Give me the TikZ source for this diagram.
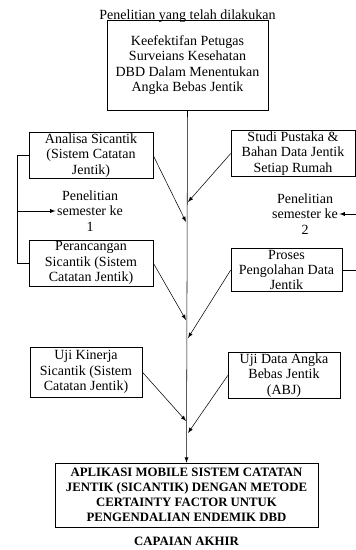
\documentclass[tikz,border=0pt]{standalone}
\usepackage{fontspec}
\setmainfont{Liberation Serif}
\usetikzlibrary{positioning}
\tikzset{
  kotak/.style={draw, fill=white, align=center, inner xsep=2pt, inner ysep=1pt,
    font=\fontsize{10.5}{11.6}\selectfont},
  teks/.style={align=center, inner sep=1pt, font=\fontsize{10.5}{11.6}\selectfont},
  tebal/.style={font=\fontsize{9.6}{11.4}\selectfont\bfseries},
}

\begin{document}
\begin{tikzpicture}[x=0.75pt, y=-0.75pt, >=latex]
  \useasboundingbox (0,0) rectangle (356,550);

  \node[kotak, minimum width=120.75pt, minimum height=67.5pt] (kef) at (187.5,65)
    {Keefektifan Petugas\\Surveians Kesehatan\\DBD Dalam Menentukan\\Angka Bebas Jentik};
  \node[teks, above=-3pt of kef] (judul) {Penelitian yang telah dilakukan};

  \node[kotak, minimum width=93pt, minimum height=33.75pt] (analisa) at (91,155.5)
    {Analisa Sicantik\\(Sistem Catatan\\Jentik)};
  \node[kotak, minimum width=93pt, minimum height=30.75pt] (studi) at (293,153.5)
    {Studi Pustaka \&\\Bahan Data Jentik\\Setiap Rumah};

  \node[teks] (sem1) at (90,211) {Penelitian\\semester ke\\1};
  \node[teks] (sem2) at (305,214) {Penelitian\\semester ke\\2};

  \node[kotak, minimum width=93pt, minimum height=30pt] (perancangan) at (91,263)
    {Perancangan\\Sicantik (Sistem\\Catatan Jentik)};
  \node[kotak, minimum width=83.25pt, minimum height=30pt] (proses) at (286.5,270)
    {Proses\\Pengolahan Data\\Jentik};

  \node[kotak, minimum width=84pt, minimum height=37.5pt] (ujikinerja) at (86,372)
    {Uji Kinerja\\Sicantik (Sistem\\Catatan Jentik)};
  \node[kotak, minimum width=84pt, minimum height=32.25pt] (ujidata) at (284,375.5)
    {Uji Data Angka\\Bebas Jentik\\(ABJ)};

  \node[kotak, tebal, minimum width=197.25pt, minimum height=48pt] (aplikasi) at (186.5,495)
    {APLIKASI MOBILE SISTEM CATATAN\\JENTIK (SICANTIK) DENGAN METODE\\CERTAINTY FACTOR UNTUK\\PENGENDALIAN ENDEMIK DBD};
  \node[teks, tebal, below=6pt of aplikasi] (capaian) {CAPAIAN AKHIR};

  % titik pada garis tengah
  \coordinate (t1) at (186,222);
  \coordinate (t2) at (188,202);
  \coordinate (t3) at (186,320);
  \coordinate (t4) at (188,338);
  \coordinate (t5) at (186,421);
  \coordinate (t6) at (188,433);

  % garis utama
  \draw[->] (kef.south) -- (aplikasi.north);

  \draw[->] (analisa.east) -- (t1);
  \draw[->] (studi.west) -- (t2);
  \draw[->] (perancangan.east) -- (t3);
  \draw[->] (proses.west) -- (t4);
  \draw[->] (ujikinerja.east) -- (t5);
  \draw[->] (ujidata.west) -- (t6);

  % kurung semester 1
  \coordinate (kiri) at (17,0);
  \draw (analisa.west) -- (analisa.west -| kiri) -- (perancangan.west -| kiri) -- (perancangan.west);
  \draw[->] (kiri |- sem1) -- (sem1.west);

  % kurung semester 2
  \coordinate (kanan) at (359,0);
  \draw (studi.east) -- (studi.east -| kanan) -- (proses.east -| kanan) -- (proses.east);
  \draw[->] (kanan |- sem2) -- (sem2.east);
\end{tikzpicture}
\end{document}
